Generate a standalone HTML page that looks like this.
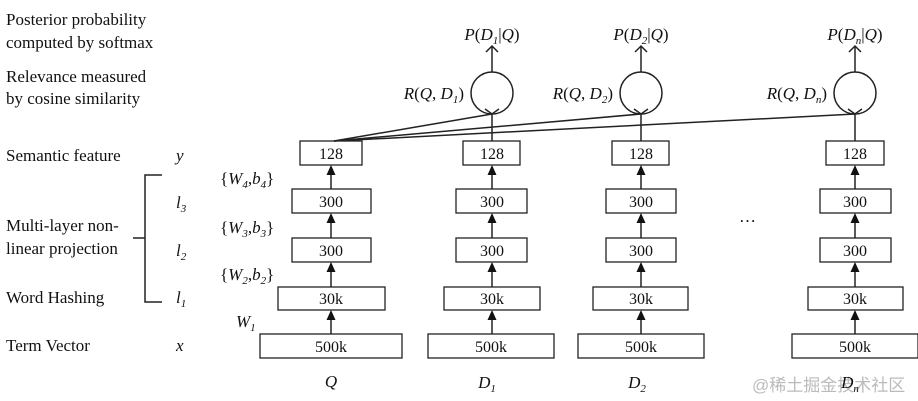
<!DOCTYPE html>
<html><head><meta charset="utf-8"><style>
html,body{margin:0;padding:0;background:#fff;}
svg{display:block;font-family:"Liberation Serif",serif;}
.t{font-size:17px;fill:#111;}
.i{font-size:17px;font-style:italic;fill:#111;}
.b{font-size:16px;fill:#111;text-anchor:middle;}
rect{fill:#fff;stroke:#222;stroke-width:1.3;}
line,path.l{stroke:#222;stroke-width:1.5;fill:none;}
polygon{fill:#111;}
</style></head><body>
<svg width="918" height="401" viewBox="0 0 918 401" xmlns="http://www.w3.org/2000/svg">
<defs>
<g id="arr">
<line x1="0" y1="334" x2="0" y2="318"/><polygon points="-4.5,320 0,310 4.5,320"/>
<line x1="0" y1="287" x2="0" y2="270"/><polygon points="-4.5,272 0,262 4.5,272"/>
<line x1="0" y1="238" x2="0" y2="221"/><polygon points="-4.5,223 0,213 4.5,223"/>
<line x1="0" y1="189" x2="0" y2="173"/><polygon points="-4.5,175 0,165 4.5,175"/>
</g>
<g id="top">
<line x1="0" y1="141" x2="0" y2="114"/>
<path class="l" d="M-7,109 L0,114 L7,109"/>
<circle cx="0" cy="93" r="21" fill="none" stroke="#222" stroke-width="1.5"/>
<line x1="0" y1="72" x2="0" y2="46"/>
<path class="l" d="M-6,52 L0,46 L6,52"/>
</g>
</defs>
<!-- left labels -->
<text class="t" x="6" y="25">Posterior probability</text>
<text class="t" x="6" y="48">computed by softmax</text>
<text class="t" x="6" y="82">Relevance measured</text>
<text class="t" x="6" y="104">by cosine similarity</text>
<text class="t" x="6" y="161">Semantic feature</text>
<text class="t" x="6" y="231">Multi-layer non-</text>
<text class="t" x="6" y="254">linear projection</text>
<text class="t" x="6" y="303">Word Hashing</text>
<text class="t" x="6" y="351">Term Vector</text>
<path class="l" d="M162,175 H145 V302 H162 M133,238 H145"/>
<text class="i" x="176" y="161">y</text>
<text class="i" x="176" y="208">l<tspan font-size="11" dy="4">3</tspan></text>
<text class="i" x="176" y="256">l<tspan font-size="11" dy="4">2</tspan></text>
<text class="i" x="176" y="303">l<tspan font-size="11" dy="4">1</tspan></text>
<text class="i" x="176" y="351">x</text>
<text class="i" x="220" y="184"><tspan font-style="normal">{</tspan>W<tspan font-size="11" dy="4">4</tspan><tspan dy="-4" font-style="normal">,</tspan>b<tspan font-size="11" dy="4">4</tspan><tspan dy="-4" font-style="normal">}</tspan></text>
<text class="i" x="220" y="233"><tspan font-style="normal">{</tspan>W<tspan font-size="11" dy="4">3</tspan><tspan dy="-4" font-style="normal">,</tspan>b<tspan font-size="11" dy="4">3</tspan><tspan dy="-4" font-style="normal">}</tspan></text>
<text class="i" x="220" y="280"><tspan font-style="normal">{</tspan>W<tspan font-size="11" dy="4">2</tspan><tspan dy="-4" font-style="normal">,</tspan>b<tspan font-size="11" dy="4">2</tspan><tspan dy="-4" font-style="normal">}</tspan></text>
<text class="i" x="236" y="327">W<tspan font-size="11" dy="4">1</tspan></text>

<!-- Q column -->
<use href="#arr" x="331"/>
<rect x="260" y="334" width="142" height="24"/><text class="b" x="331" y="352">500k</text>
<rect x="278" y="287" width="107" height="23"/><text class="b" x="331" y="304">30k</text>
<rect x="292" y="238" width="79" height="24"/><text class="b" x="331" y="256">300</text>
<rect x="292" y="189" width="79" height="24"/><text class="b" x="331" y="207">300</text>
<rect x="300" y="141" width="62" height="24"/><text class="b" x="331" y="159">128</text>
<text class="i" x="331" y="387" text-anchor="middle">Q</text>
<!-- connections from Q -->
<line x1="334" y1="141" x2="492" y2="114"/>
<line x1="334" y1="141" x2="641" y2="114"/>
<line x1="334" y1="141" x2="855" y2="114"/>

<!-- D1 -->
<use href="#arr" x="492"/><use href="#top" x="492"/>
<rect x="428" y="334" width="126" height="24"/><text class="b" x="491" y="352">500k</text>
<rect x="444" y="287" width="96" height="23"/><text class="b" x="492" y="304">30k</text>
<rect x="456" y="238" width="71" height="24"/><text class="b" x="492" y="256">300</text>
<rect x="456" y="189" width="71" height="24"/><text class="b" x="492" y="207">300</text>
<rect x="463" y="141" width="57" height="24"/><text class="b" x="492" y="159">128</text>
<!-- D2 -->
<use href="#arr" x="641"/><use href="#top" x="641"/>
<rect x="578" y="334" width="126" height="24"/><text class="b" x="641" y="352">500k</text>
<rect x="593" y="287" width="95" height="23"/><text class="b" x="641" y="304">30k</text>
<rect x="606" y="238" width="70" height="24"/><text class="b" x="641" y="256">300</text>
<rect x="606" y="189" width="70" height="24"/><text class="b" x="641" y="207">300</text>
<rect x="612" y="141" width="57" height="24"/><text class="b" x="641" y="159">128</text>
<!-- Dn -->
<use href="#arr" x="855"/><use href="#top" x="855"/>
<rect x="792" y="334" width="126" height="24"/><text class="b" x="855" y="352">500k</text>
<rect x="808" y="287" width="95" height="23"/><text class="b" x="855" y="304">30k</text>
<rect x="820" y="238" width="71" height="24"/><text class="b" x="855" y="256">300</text>
<rect x="820" y="189" width="71" height="24"/><text class="b" x="855" y="207">300</text>
<rect x="826" y="141" width="58" height="24"/><text class="b" x="855" y="159">128</text>
<text class="t" x="739" y="222">…</text>

<!-- P labels -->
<text class="i" x="492" y="40" text-anchor="middle">P<tspan font-style="normal">(</tspan>D<tspan font-size="11" dy="4">1</tspan><tspan dy="-4" font-style="normal">|</tspan>Q<tspan font-style="normal">)</tspan></text>
<text class="i" x="641" y="40" text-anchor="middle">P<tspan font-style="normal">(</tspan>D<tspan font-size="11" dy="4">2</tspan><tspan dy="-4" font-style="normal">|</tspan>Q<tspan font-style="normal">)</tspan></text>
<text class="i" x="855" y="40" text-anchor="middle">P<tspan font-style="normal">(</tspan>D<tspan font-size="11" dy="4">n</tspan><tspan dy="-4" font-style="normal">|</tspan>Q<tspan font-style="normal">)</tspan></text>
<!-- R labels -->
<text class="i" x="464" y="99" text-anchor="end">R<tspan font-style="normal">(</tspan>Q<tspan font-style="normal">, </tspan>D<tspan font-size="11" dy="4">1</tspan><tspan dy="-4" font-style="normal">)</tspan></text>
<text class="i" x="613" y="99" text-anchor="end">R<tspan font-style="normal">(</tspan>Q<tspan font-style="normal">, </tspan>D<tspan font-size="11" dy="4">2</tspan><tspan dy="-4" font-style="normal">)</tspan></text>
<text class="i" x="827" y="99" text-anchor="end">R<tspan font-style="normal">(</tspan>Q<tspan font-style="normal">, </tspan>D<tspan font-size="11" dy="4">n</tspan><tspan dy="-4" font-style="normal">)</tspan></text>
<!-- bottom labels -->
<text class="i" x="487" y="388" text-anchor="middle">D<tspan font-size="11" dy="4">1</tspan></text>
<text class="i" x="637" y="388" text-anchor="middle">D<tspan font-size="11" dy="4">2</tspan></text>
<text x="752" y="391" style="font-family:'Liberation Sans','Noto Sans CJK SC',sans-serif;font-size:17px;fill:#bbb;">@稀土掘金技术社区</text>
<text class="i" x="850" y="388" text-anchor="middle">D<tspan font-size="11" dy="4">n</tspan></text>
</svg>
</body></html>
